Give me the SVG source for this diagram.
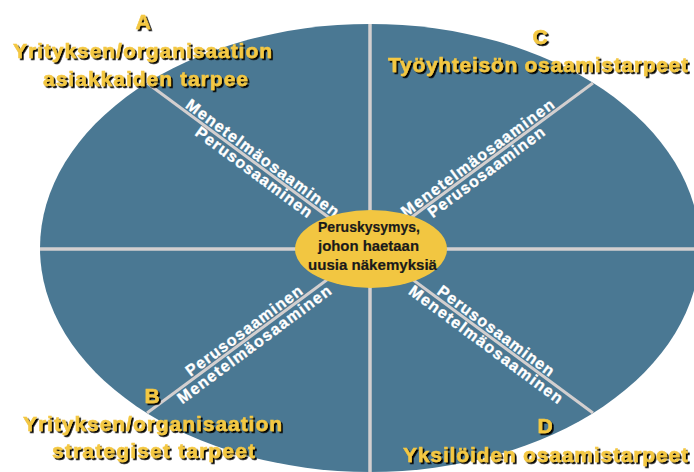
<svg xmlns="http://www.w3.org/2000/svg" width="694" height="472" viewBox="0 0 694 472">
  <style>
    .spoke { stroke: #D3CFCF; stroke-width: 3.5; fill: none; }
    .diag { stroke: #D3CFCF; stroke-width: 3; fill: none; }
    .lbl { font-family: "Liberation Sans", Arial, sans-serif; font-weight: bold; font-size: 16px; fill: #FFFFFF; stroke: #FFFFFF; stroke-width: 0.3; }
    .title { font-family: "Liberation Sans", Arial, sans-serif; font-weight: bold; font-size: 21px; fill: #F4C843; stroke: #F4C843; stroke-width: 0.5; filter: url(#shadow); }
    .center { font-family: "Liberation Sans", Arial, sans-serif; font-weight: bold; font-size: 15px; fill: #1A1A1A; stroke: #1A1A1A; stroke-width: 0.2; }
  </style>
  <defs>
    <filter id="shadow" x="-10%" y="-30%" width="120%" height="160%">
      <feDropShadow dx="1.8" dy="1.8" stdDeviation="0" flood-color="#000000" flood-opacity="1"/>
    </filter>
  </defs>
  <rect width="694" height="472" fill="#FFFFFF"/>
  <g id="field">
    <ellipse cx="370" cy="248" rx="330" ry="224" fill="#4A7893"/>
  </g>
  <g id="connectors">
    <line class="spoke" x1="370" y1="24" x2="370" y2="472"/>
    <line class="spoke" x1="40" y1="249" x2="700" y2="249"/>
    <line class="diag" x1="147" y1="83" x2="370" y2="248"/>
    <line class="diag" x1="593" y1="83" x2="370" y2="248"/>
    <line class="diag" x1="147" y1="413" x2="370" y2="248"/>
    <line class="diag" x1="593" y1="413" x2="370" y2="248"/>
  </g>
  <g id="connector-labels">
    <g transform="translate(370,248) rotate(36.5)">
      <text class="lbl" x="-233" y="-3" textLength="186" lengthAdjust="spacing">Menetelmäosaaminen</text>
      <text class="lbl" x="-209" y="13.5" textLength="141" lengthAdjust="spacing">Perusosaaminen</text>
    </g>
    <g transform="translate(370,248) rotate(-36.5)">
      <text class="lbl" x="47" y="-3" textLength="186" lengthAdjust="spacing">Menetelmäosaaminen</text>
      <text class="lbl" x="68" y="13.5" textLength="141" lengthAdjust="spacing">Perusosaaminen</text>
    </g>
    <g transform="translate(370,248) rotate(-36.5)">
      <text class="lbl" x="-221" y="-3" textLength="141" lengthAdjust="spacing">Perusosaaminen</text>
      <text class="lbl" x="-244" y="14" textLength="187" lengthAdjust="spacing">Menetelmäosaaminen</text>
    </g>
    <g transform="translate(370,248) rotate(36.5)">
      <text class="lbl" x="80" y="-3" textLength="141" lengthAdjust="spacing">Perusosaaminen</text>
      <text class="lbl" x="57" y="14" textLength="187" lengthAdjust="spacing">Menetelmäosaaminen</text>
    </g>
  </g>
  <g id="center-node">
    <ellipse cx="371" cy="249" rx="76" ry="39" fill="#F2C641"/>
    <text class="center" x="318" y="232" textLength="102" lengthAdjust="spacingAndGlyphs">Peruskysymys,</text>
    <text class="center" x="318" y="251" textLength="101" lengthAdjust="spacingAndGlyphs">johon haetaan</text>
    <text class="center" x="308" y="270" textLength="129" lengthAdjust="spacingAndGlyphs">uusia näkemyksiä</text>
  </g>
  <g id="node-A">
    <text class="title" x="143" y="29" text-anchor="middle">A</text>
    <text class="title" x="13" y="58" textLength="259" lengthAdjust="spacing">Yrityksen/organisaation</text>
    <text class="title" x="43" y="86" textLength="205" lengthAdjust="spacing">asiakkaiden tarpee</text>
  </g>
  <g id="node-C">
    <text class="title" x="540" y="44" text-anchor="middle">C</text>
    <text class="title" x="388" y="72" textLength="300" lengthAdjust="spacing">Työyhteisön osaamistarpeet</text>
  </g>
  <g id="node-B">
    <text class="title" x="152" y="403" text-anchor="middle">B</text>
    <text class="title" x="23" y="431" textLength="259" lengthAdjust="spacing">Yrityksen/organisaation</text>
    <text class="title" x="52" y="458" textLength="203" lengthAdjust="spacing">strategiset tarpeet</text>
  </g>
  <g id="node-D">
    <text class="title" x="545" y="433" text-anchor="middle">D</text>
    <text class="title" x="403" y="462" textLength="285" lengthAdjust="spacing">Yksilöiden osaamistarpeet</text>
  </g>
</svg>
